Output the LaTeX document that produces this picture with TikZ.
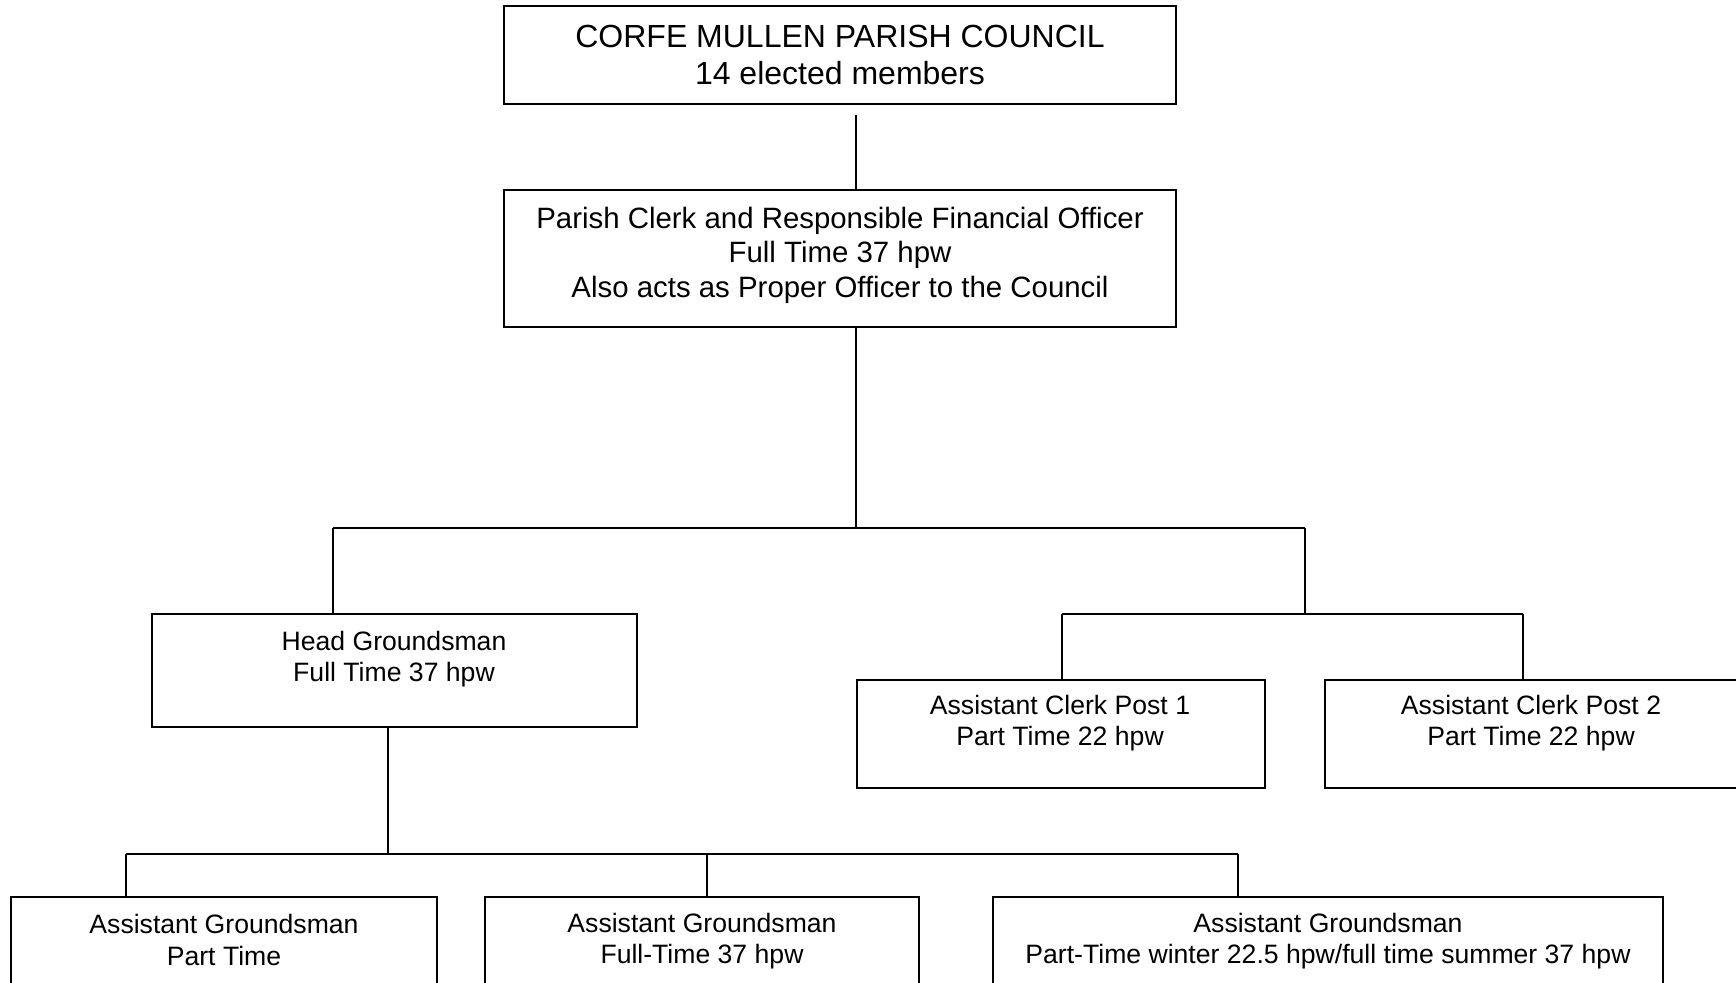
\documentclass[tikz,border=0pt]{standalone}
\usepackage{fontspec}
\setmainfont{Liberation Sans}
\begin{document}
\begin{tikzpicture}[x=0.5pt,y=-0.5pt,
  orgbox/.style={draw, line width=1pt, inner sep=0pt},
  conn/.style={line width=0.9pt},
  txt/.style={align=center, inner sep=0pt, font=\fontsize{13.3}{15.6}\selectfont},
  txttop/.style={align=center, inner sep=0pt, font=\fontsize{16}{18.8}\selectfont},
  txtclerk/.style={align=center, inner sep=0pt, font=\fontsize{14.7}{17.2}\selectfont}]
\useasboundingbox (0,0) rectangle (1736,982);
\clip (0,0) rectangle (1736,982);
% boxes
\node[orgbox, minimum width=336pt, minimum height=49pt] (top) at (840,55) {};
\node[orgbox, minimum width=336pt, minimum height=68.5pt] (clerk) at (840,258.5) {};
\node[orgbox, minimum width=242.5pt, minimum height=56.5pt] (hg) at (394.5,670.5) {};
\node[orgbox, minimum width=204pt, minimum height=54pt] (ac1) at (1061,734) {};
\node[orgbox, minimum width=210pt, minimum height=54pt] (ac2) at (1535,734) {};
\node[orgbox, minimum width=213pt, minimum height=56.5pt] (b1) at (224,953.5) {};
\node[orgbox, minimum width=217pt, minimum height=56.5pt] (b2) at (702,953.5) {};
\node[orgbox, minimum width=335pt, minimum height=56.5pt] (b3) at (1328,953.5) {};
% texts
\node[txttop] (ttop) at (840,55) {CORFE MULLEN PARISH COUNCIL\\14 elected members};
\node[txtclerk] (tclerk) at (840,255) {Parish Clerk and Responsible Financial Officer\\Full Time 37 hpw\\Also acts as Proper Officer to the Council};
\node[txt] (thg) at (394,659) {Head Groundsman\\Full Time 37 hpw};
\node[txt] (tac1) at (1060,723) {Assistant Clerk Post 1\\Part Time 22 hpw};
\node[txt] (tac2) at (1531,723) {Assistant Clerk Post 2\\Part Time 22 hpw};
\node[txt] (tb1) at (224,940) {Assistant Groundsman\\Part Time};
\node[txt] (tb2) at (702,941) {Assistant Groundsman\\Full-Time 37 hpw};
\node[txt] (tb3) at (1328,941) {Assistant Groundsman\\Part-Time winter 22.5 hpw/full time summer 37 hpw};
% junctions
\coordinate (j0) at (856,115);
\coordinate (j1) at (856,528);
\coordinate (jl) at (333,528);
\coordinate (jr) at (1305,528);
\coordinate (cb) at (1305,614);
\coordinate (c1) at (1062,614);
\coordinate (c2) at (1523,614);
\coordinate (gv) at (388,854);
\coordinate (g1) at (126,854);
\coordinate (g2) at (707,854);
\coordinate (g3) at (1238,854);
% connectors
\draw[conn] (j0) -- (j1 |- clerk.north);
\draw[conn] (j1 |- clerk.south) -- (j1);
\draw[conn] (jl) -- (jr);
\draw[conn] (jl) -- (jl |- hg.north);
\draw[conn] (jr) -- (cb);
\draw[conn] (c1) -- (c2);
\draw[conn] (c1) -- (c1 |- ac1.north);
\draw[conn] (c2) -- (c2 |- ac2.north);
\draw[conn] (gv |- hg.south) -- (gv);
\draw[conn] (g1) -- (g3);
\draw[conn] (g1) -- (g1 |- b1.north);
\draw[conn] (g2) -- (g2 |- b2.north);
\draw[conn] (g3) -- (g3 |- b3.north);
\end{tikzpicture}
\end{document}
